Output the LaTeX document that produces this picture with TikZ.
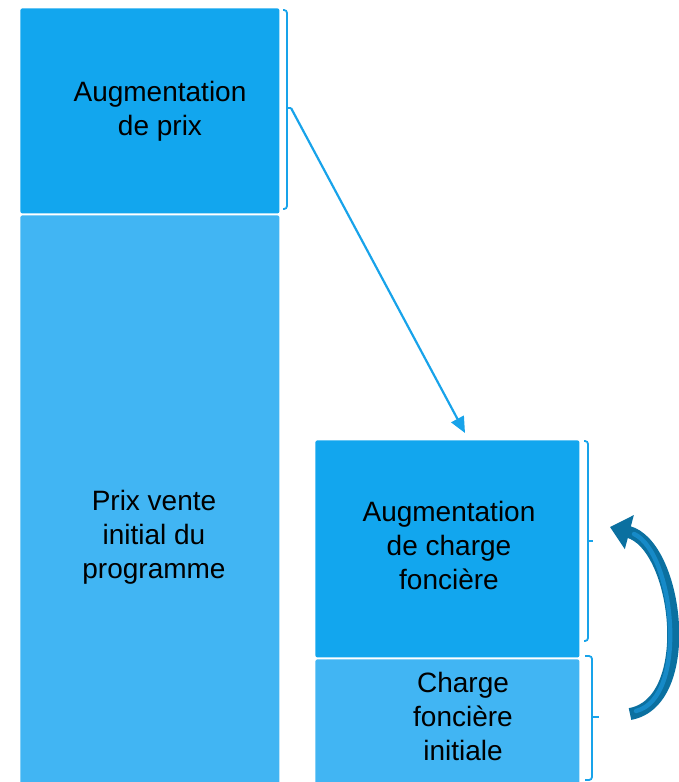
\documentclass[tikz,border=0pt]{standalone}
\usepackage{fontspec}
\setmainfont{Liberation Sans}
\usetikzlibrary{positioning,arrows.meta}

\definecolor{bleufonce}{RGB}{18,166,238}
\definecolor{bleuclair}{RGB}{65,181,243}
\definecolor{bleutrait}{RGB}{24,163,234}
\definecolor{bleunuit}{RGB}{11,112,160}
\definecolor{bleumoyen}{RGB}{22,138,200}

\begin{document}
\begin{tikzpicture}
        [ x = .5pt
        , y = -.5pt
        , bloc/.style =
          { rectangle, rounded corners=1pt, inner sep=0pt, anchor=north west }
        , fonce/.style =
          { bloc, fill=bleufonce }
        , clair/.style =
          { bloc, fill=bleuclair }
        , texte/.style =
          { align=center, font=\fontsize{14pt}{17pt}\selectfont }
        , accolade/.style =
          { draw=bleutrait, line width=.9pt, rounded corners=1.5pt }
        , fleche/.style =
          { draw=bleutrait, line width=1.1pt, -{Triangle[length=8pt,width=7pt]} }
        , boucle/.style =
          { draw=bleunuit, line width=6pt }
        ]
        \useasboundingbox (0,0) rectangle (679,782);

        % colonne de gauche
        \node [fonce, minimum width=129.5pt, minimum height=102.5pt] (hausse) at (20,8) {};
        \node [clair, minimum width=129.5pt, minimum height=290pt] (initial) at (20,215) {};
        \node [texte] (haussetxt) at (160,111) {Augmentation\\de prix};
        \node [texte] (initialtxt) at (154,537) {Prix vente\\initial du\\programme};

        % colonne de droite
        \node [fonce, minimum width=132pt, minimum height=108.5pt] (charge) at (315,440) {};
        \node [clair, minimum width=132pt, minimum height=65pt] (base) at (315,659) {};
        \node [texte] (chargetxt) at (449,545) {Augmentation\\de charge\\foncière};
        \node [texte] (basetxt) at (463,716) {Charge\\foncière\\initiale};

        % accolades
        \draw [accolade] (283,10) -- (287,10) -- (287,209) -- (283,209);
        \draw [accolade] (287,108) -- (291,108);
        \draw [accolade] (584,441) -- (588,441) -- (588,641) -- (584,641);
        \draw [accolade] (588,541) -- (593,541);
        \draw [accolade] (585,656) -- (592,656) -- (592,780) -- (585,780);
        \draw [accolade] (592,717) -- (599,717);

        \coordinate (pointe) at (291,108);
        \coordinate (cible) at (465,433);
        \coordinate (depart) at (630,714);
        \coordinate (arrivee) at (610,527);

        % fleches
        \draw [fleche] (pointe) -- (cible);
        \draw [boucle, line cap=butt, -{Triangle[length=10pt,width=17pt]}]
          (depart) .. controls (697,702) and (678,545) .. (arrivee);
        \draw [draw=bleumoyen, line width=2.2pt, line cap=round]
          (636,711) .. controls (689,698) and (674,552) .. (634,534);
\end{tikzpicture}
\end{document}
